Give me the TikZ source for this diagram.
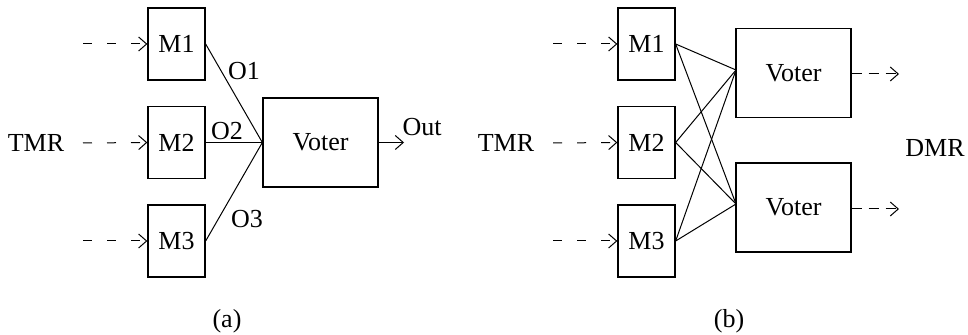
\documentclass[tikz,border=0pt]{standalone}
\usepackage{fontspec}
\setmainfont{Liberation Serif}
\usetikzlibrary{arrows.meta}
\begin{document}
\begin{tikzpicture}[x=0.5pt,y=-0.5pt,
  font=\fontsize{13}{15}\selectfont,
  modbox/.style={draw,line width=0.65pt,minimum width=28.5pt,minimum height=36pt,inner sep=0pt},
  votebox/.style={draw,line width=0.65pt,minimum width=57.5pt,minimum height=44.5pt,inner sep=0pt},
  lbl/.style={inner sep=0pt},
  wire/.style={line width=0.5pt},
  tip/.style={-{Straight Barb[length=4pt,width=7pt,line width=0.5pt]}},
  feed/.style={wire,tip,dash pattern=on 4.5pt off 7.5pt},
]
\useasboundingbox (0,0) rectangle (968,335);

% ---- (a) triple modular redundancy with one voter ----
\node[modbox] (a1) at (176.5,44) {M1};
\node[modbox] (a2) at (176.5,142.5) {M2};
\node[modbox] (a3) at (176.5,241) {M3};
\node[votebox] (av) at (320.5,142.5) {Voter};

\coordinate (ai1) at (83,44);
\coordinate (ai2) at (83,143);
\coordinate (ai3) at (83,241);
\draw[feed] (ai1) -- (a1.west);
\draw[feed] (ai2) -- (a2.west);
\draw[feed] (ai3) -- (a3.west);

\draw[wire] (a1.east) -- (av.west);
\draw[wire] (a2.east) -- (av.west);
\draw[wire] (a3.east) -- (av.west);

\coordinate (aout) at (404,142.5);
\draw[wire,tip] (av.east) -- (aout);

\node[lbl] (tmra) at (36,143) {TMR};
\node[lbl] (o1) at (244,71) {O1};
\node[lbl] (o2) at (227,131) {O2};
\node[lbl] (o3) at (247,219) {O3};
\node[lbl] (outl) at (422,127) {Out};
\node[lbl] (capa) at (227,321) {(a)};

% ---- (b) triple modules feeding two voters ----
\node[modbox] (b1) at (646.5,44) {M1};
\node[modbox] (b2) at (646.5,142.5) {M2};
\node[modbox] (b3) at (646.5,241) {M3};
\node[votebox] (bv1) at (793.5,73) {Voter};
\node[votebox] (bv2) at (793.5,207.5) {Voter};

\coordinate (bi1) at (553,44);
\coordinate (bi2) at (553,143);
\coordinate (bi3) at (553,241);
\draw[feed] (bi1) -- (b1.west);
\draw[feed] (bi2) -- (b2.west);
\draw[feed] (bi3) -- (b3.west);

\coordinate (bj1) at (736,70);
\coordinate (bj2) at (736,204);
\foreach \m in {b1,b2,b3}{
  \draw[wire] (\m.east) -- (bj1);
  \draw[wire] (\m.east) -- (bj2);
}

\coordinate (bo1) at (899,74);
\coordinate (bo2) at (899,209);
\draw[feed,dash pattern=on 5pt off 3.5pt] (bv1.east |- bo1) -- (bo1);
\draw[feed,dash pattern=on 5pt off 3.5pt] (bv2.east |- bo2) -- (bo2);

\node[lbl] (tmrb) at (506,143) {TMR};
\node[lbl] (dmr) at (935,148) {DMR};
\node[lbl] (capb) at (729,321) {(b)};
\end{tikzpicture}
\end{document}
